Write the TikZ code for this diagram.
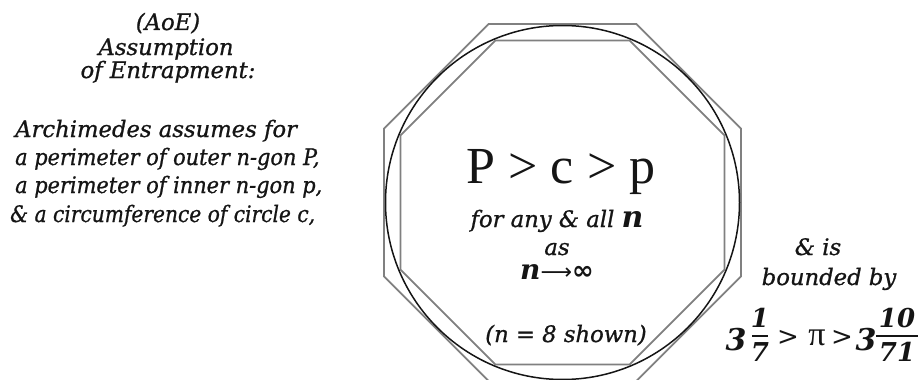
\documentclass[tikz,border=0pt]{standalone}
\usepackage{graphicx}
\usepackage{fontspec}
\setmainfont{DejaVu Serif}[ItalicFeatures={FakeBold=0.9}]
\newfontfamily\libser{Liberation Serif}
\newfontfamily\dvsans{DejaVu Sans}
\definecolor{ink}{HTML}{151515}
\definecolor{polyc}{HTML}{808080}
\tikzset{
  txt/.style={inner sep=0pt, anchor=base, text=ink, font=\fontsize{22.7}{27}\selectfont\itshape},
  txtl/.style={txt, anchor=base west},
  big/.style={inner sep=0pt, anchor=base, text=ink, font=\fontsize{52}{60}\selectfont\libser},
  bnum/.style={inner sep=0pt, anchor=base, text=ink, font=\fontsize{26}{30}\selectfont\bfseries\itshape},
  bthree/.style={inner sep=0pt, anchor=base, text=ink, font=\fontsize{30}{34}\selectfont\bfseries\itshape},
  rel/.style={inner sep=0pt, anchor=base, text=ink, font=\fontsize{26}{30}\selectfont},
  poly/.style={draw=polyc, line width=1.7pt},
  circ/.style={draw=ink, line width=1.5pt},
  fbar/.style={draw=ink, line width=1.8pt}
}
\begin{document}
\begin{tikzpicture}[x=1pt,y=-1pt]
\useasboundingbox (0,0) rectangle (922,380);
\fill[white] (0,0) rectangle (922,380);

% geometry
\coordinate (O) at (562.5,202.5);
\begin{scope}[shift={(O)}]
  \draw[poly] (22.5:193.2pt) -- (67.5:193.2pt) -- (112.5:193.2pt) -- (157.5:193.2pt) -- (202.5:193.2pt) -- (247.5:193.2pt) -- (292.5:193.2pt) -- (337.5:193.2pt) -- cycle;
  \draw[poly] (22.5:175.4pt) -- (67.5:175.4pt) -- (112.5:175.4pt) -- (157.5:175.4pt) -- (202.5:175.4pt) -- (247.5:175.4pt) -- (292.5:175.4pt) -- (337.5:175.4pt) -- cycle;
  \draw[circ] (0,0) circle (177pt);
\end{scope}

% left title
\node[txt] (t1) at (168,30) {(AoE)};
\node[txt] (t2) at (166,55) {Assumption};
\node[txt] (t3) at (168,78) {of Entrapment:};

% left paragraph
\node[txtl] (l1) at (15,137) {Archimedes assumes for};
\node[txtl] (l2) at (15,165) {\scalebox{0.92}[1]{a perimeter of outer n-gon P,}};
\node[txtl] (l3) at (15,193) {\scalebox{0.92}[1]{a perimeter of inner n-gon p,}};
\node[txtl] (l4) at (10,222) {\scalebox{0.89}[1]{\& a circumference of circle c,}};

% center
\node[big] (ineq) at (561,183) {P > c > p};
\node[txt] (fa) at (557,227) {for any \& all {\fontsize{30}{30}\selectfont\bfseries n}};
\node[txt] (as) at (557,255) {as};
\node[txt] (lim) at (557,279) {{\fontsize{28}{28}\selectfont\bfseries n}{\dvsans\upshape\fontsize{22}{22}\selectfont ⟶\fontsize{26}{26}\selectfont\bfseries ∞}};
\node[txt] (shown) at (566,342) {(n = 8 shown)};

% right
\node[txt] (r1) at (818,255) {\& is};
\node[txt] (r2) at (829,285) {bounded by};

% bounds
\node[bthree] (a3) at (736,350) {3};
\node[bnum] (n1) at (760,327) {1};
\node[bnum] (d7) at (760,361) {7};
\coordinate (b1l) at (752,336);
\coordinate (b1r) at (768,336);
\draw[fbar] (b1l) -- (b1r);
\node[rel] (g1) at (788,345) {>};
\node[rel, font=\fontsize{34}{38}\selectfont\libser] (pi) at (817,345) {π};
\node[rel] (g2) at (842,345) {>};
\node[bthree] (b3) at (866,350) {3};
\node[bnum] (n10) at (897,327) {10};
\node[bnum] (d71) at (897,361) {71};
\coordinate (b2l) at (876,336);
\coordinate (b2r) at (918,336);
\draw[fbar] (b2l) -- (b2r);
\end{tikzpicture}
\end{document}
